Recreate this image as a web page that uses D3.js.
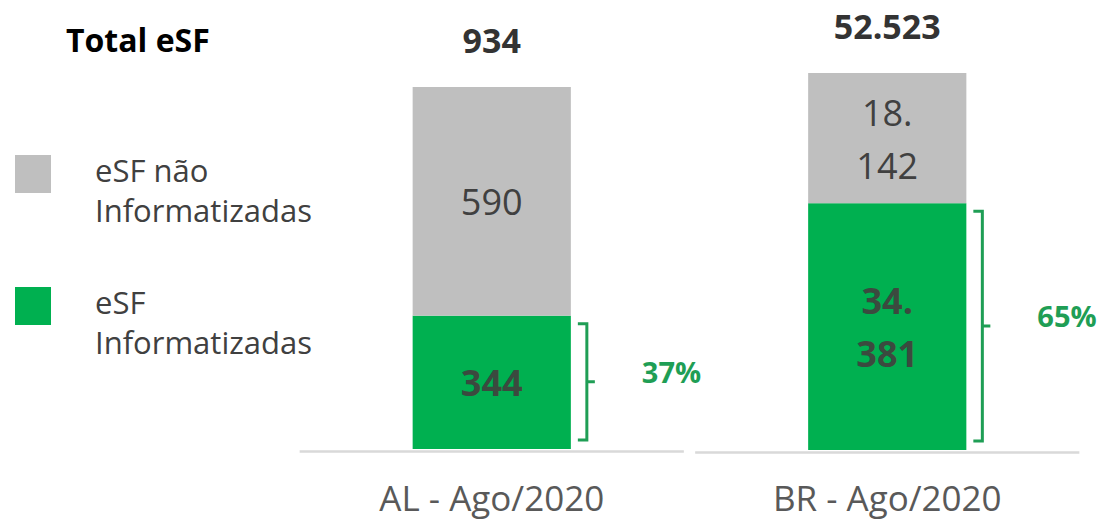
<!DOCTYPE html>
<html>
<head>
<meta charset="utf-8">
<script src="https://cdn.jsdelivr.net/npm/d3@7"></script>
<style>
  body { margin: 0; background: #fff; }
  text { font-family: "Open Sans", sans-serif; }
</style>
</head>
<body>
<div id="chart"></div>
<script>
const categories = ["AL - Ago/2020", "BR - Ago/2020"];
const informatizadas = [344, 34381];
const naoInformatizadas = [590, 18142];
const totals = [934, 52523];
const pctLabels = ["37%", "65%"];
const legendLabels = [["eSF não", "Informatizadas"], ["eSF", "Informatizadas"]];

function init() {
  const width = 1102, height = 526;
  const colors = { nao: "#bfbfbf", inf: "#00b050" };
  const greenText = "#1f9e55";

  // each bar was drawn in its own panel, slightly different heights
  const barTop = [87, 73], barBottom = [449, 450];

  const ptBR = d3.formatLocale({ decimal: ",", thousands: ".", grouping: [3], currency: ["R$", ""] });
  const fmt = ptBR.format(",d");

  const svg = d3.select("#chart")
    .append("svg")
    .attr("width", width)
    .attr("height", height);

  const x = d3.scaleBand()
    .domain(categories)
    .range([294, 1085])
    .paddingInner(0.6)
    .paddingOuter(0.3);

  const rows = categories.map((c, i) => ({ cat: c, inf: informatizadas[i], nao: naoInformatizadas[i] }));
  const series = d3.stack().keys(["inf", "nao"]).offset(d3.stackOffsetExpand)(rows);

  const yScales = categories.map((c, i) => d3.scaleLinear().domain([0, 1]).range([barBottom[i], barTop[i]]));

  // baselines
  categories.forEach((c, i) => {
    svg.append("line")
      .attr("x1", x(c) - 113)
      .attr("x2", x(c) + x.bandwidth() + 113)
      .attr("y1", barBottom[i] + 2.5)
      .attr("y2", barBottom[i] + 2.5)
      .style("stroke", "#d9d9d9")
      .style("stroke-width", 2.5);
  });

  // bars
  series.forEach(s => {
    svg.append("g")
      .selectAll("rect")
      .data(s)
      .enter()
      .append("rect")
      .attr("x", d => x(d.data.cat))
      .attr("width", x.bandwidth())
      .attr("y", (d, i) => yScales[i](d[1]))
      .attr("height", (d, i) => yScales[i](d[0]) - yScales[i](d[1]))
      .attr("fill", colors[s.key]);
  });

  // value labels inside bars
  series.forEach(s => {
    s.forEach((d, i) => {
      const y = yScales[i];
      const mid = (y(d[0]) + y(d[1])) / 2;
      const str = fmt(d.data[s.key]);
      const lines = str.includes(".") ? [str.split(".")[0] + ".", str.split(".")[1]] : [str];
      lines.forEach((t, j) => {
        svg.append("text")
          .attr("x", x(d.data.cat) + x.bandwidth() / 2)
          .attr("y", mid + 14 + (j - (lines.length - 1) / 2) * 53)
          .attr("text-anchor", "middle")
          .style("font-size", "36px")
          .style("font-weight", s.key === "inf" ? "bold" : "normal")
          .style("fill", s.key === "inf" ? "#3b4a3f" : "#404040")
          .text(t);
      });
    });
  });

  // totals on top
  categories.forEach((c, i) => {
    svg.append("text")
      .attr("x", x(c) + x.bandwidth() / 2)
      .attr("y", barTop[i] - 34)
      .attr("text-anchor", "middle")
      .style("font-size", "34px")
      .style("font-weight", "bold")
      .style("fill", "#333")
      .text(fmt(totals[i]));
  });

  // brackets and percent labels
  series[0].forEach((d, i) => {
    const y = yScales[i];
    const top = y(d[1]) + 8, bot = y(d[0]) - 9, mid = (top + bot) / 2;
    const xr = x(d.data.cat) + x.bandwidth();
    svg.append("path")
      .attr("d", `M${xr + 7},${top}H${xr + 16}V${bot}H${xr + 7}M${xr + 16},${mid}H${xr + 24}`)
      .attr("fill", "none")
      .style("stroke", greenText)
      .style("stroke-width", 3);
    svg.append("text")
      .attr("x", xr + 71)
      .attr("y", mid + 1)
      .style("font-size", "29px")
      .style("font-weight", "bold")
      .style("fill", greenText)
      .text(pctLabels[i]);
  });

  // category labels
  categories.forEach(c => {
    svg.append("text")
      .attr("x", x(c) + x.bandwidth() / 2)
      .attr("y", 511)
      .attr("text-anchor", "middle")
      .style("font-size", "35px")
      .style("fill", "#595959")
      .text(c);
  });

  // title
  svg.append("text")
    .attr("x", 66)
    .attr("y", 52)
    .style("font-size", "32px")
    .style("font-weight", "bold")
    .style("fill", "#000")
    .text("Total eSF");

  // legend
  const legendKeys = ["nao", "inf"];
  const legendY = [155, 287];
  legendKeys.forEach((k, i) => {
    svg.append("rect")
      .attr("x", 15)
      .attr("y", legendY[i])
      .attr("width", 36)
      .attr("height", 38)
      .attr("fill", colors[k]);
    legendLabels[i].forEach((t, j) => {
      svg.append("text")
        .attr("x", 95)
        .attr("y", legendY[i] + 27 + j * 40)
        .style("font-size", "31px")
        .style("fill", "#404040")
        .text(t);
    });
  });
}

window.onload = init;
</script>
</body>
</html>
